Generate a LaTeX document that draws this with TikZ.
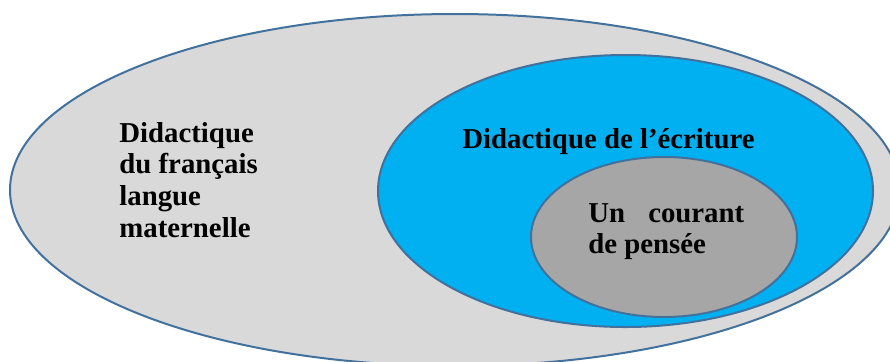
\documentclass[tikz,border=0pt]{standalone}
\usepackage{fontspec}
\setmainfont{Liberation Serif}
\usepackage{xcolor}
\usetikzlibrary{positioning}
\definecolor{rimblue}{HTML}{41719C}
\definecolor{outergray}{HTML}{D9D9D9}
\definecolor{skyblue}{HTML}{00B0F0}
\definecolor{innergray}{HTML}{A6A6A6}

\begin{document}
\begin{tikzpicture}[x=0.5pt, y=-0.5pt,
  zone/.style={draw=rimblue, line width=1pt},
  label/.style={inner sep=0pt, align=left, anchor=north west, text=black,
                font=\fontsize{14.4}{15.8}\selectfont\bfseries}
]
  \useasboundingbox (0,0) rectangle (890,361);
  \clip (0,0) rectangle (890,361);
  % nested fields
  \path[zone, fill=outergray] (455,190) ellipse [x radius=445, y radius=176];
  \path[zone, fill=skyblue]   (625.5,191) ellipse [x radius=247.5, y radius=136];
  \path[zone, fill=innergray] (664,237) ellipse [x radius=133, y radius=80];
  % texts
  \node[label] (dflm) at (119,122) {Didactique\\du français\\langue\\maternelle};
  \node[label] (decr) at (462,128) {Didactique de l’écriture};
  \node[label] (cour) at (588,203) {Un\hspace{0.8em}courant\\de pensée};
\end{tikzpicture}
\end{document}
